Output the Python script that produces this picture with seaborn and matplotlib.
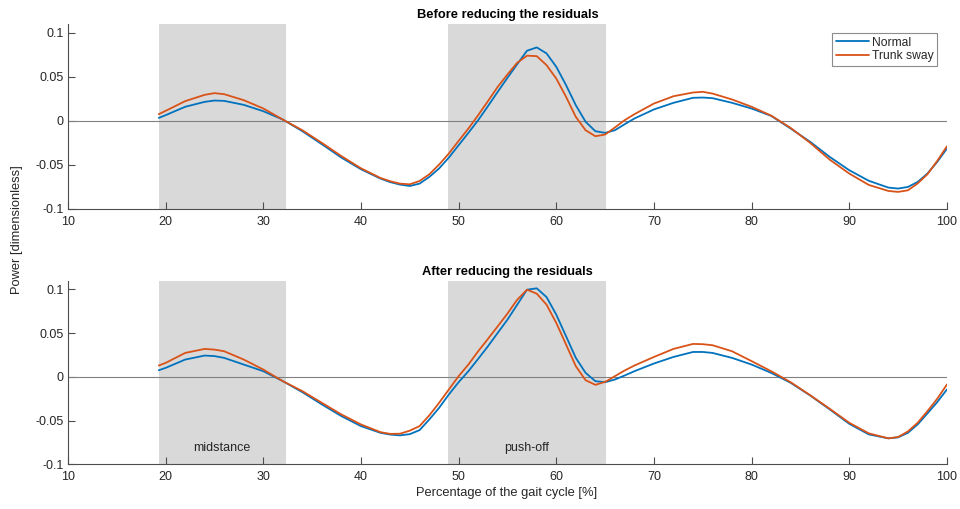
import numpy as np
import pandas as pd
import matplotlib
matplotlib.use("Agg")
import matplotlib.pyplot as plt
import seaborn as sns

# Gait cycle sample points (%)
pct = [19.3, 20, 22, 24, 25, 26, 28, 30, 32, 34, 36, 38, 40, 42, 43, 44, 45, 46, 47, 48,
       49, 50, 51, 52, 53, 54, 55, 56, 57, 58, 59, 60, 61, 62, 63, 64, 65, 66, 67, 68,
       70, 72, 74, 75, 76, 78, 80, 82, 84, 86, 88, 90, 92, 94, 95, 96, 97, 98, 99, 100]

# Before reducing the residuals
before_normal = [0.0034, 0.0065, 0.0160, 0.0216, 0.0231, 0.0227, 0.0182, 0.0110, 0.0015, -0.0117,
                 -0.0265, -0.0417, -0.0549, -0.0655, -0.0695, -0.0723, -0.0739, -0.0712, -0.0636, -0.0540,
                 -0.0416, -0.0276, -0.0136, 0.0008, 0.0167, 0.0330, 0.0489, 0.0644, 0.0796, 0.0834,
                 0.0766, 0.0614, 0.0406, 0.0178, -0.0010, -0.0117, -0.0136, -0.0106, -0.0038, 0.0027,
                 0.0130, 0.0205, 0.0262, 0.0265, 0.0258, 0.0205, 0.0140, 0.0057, -0.0087, -0.0238,
                 -0.0409, -0.0560, -0.0680, -0.0757, -0.0768, -0.0750, -0.0693, -0.0598, -0.0466, -0.0314]
before_sway = [0.0076, 0.0114, 0.0224, 0.0296, 0.0315, 0.0303, 0.0235, 0.0141, 0.0015, -0.0106,
               -0.0250, -0.0400, -0.0538, -0.0648, -0.0685, -0.0712, -0.0720, -0.0682, -0.0606, -0.0496,
               -0.0370, -0.0227, -0.0087, 0.0065, 0.0224, 0.0386, 0.0527, 0.0660, 0.0740, 0.0735,
               0.0633, 0.0480, 0.0273, 0.0045, -0.0106, -0.0174, -0.0155, -0.0075, 0.0008, 0.0076,
               0.0197, 0.0280, 0.0322, 0.0330, 0.0310, 0.0243, 0.0160, 0.0060, -0.0080, -0.0250,
               -0.0440, -0.0598, -0.0727, -0.0795, -0.0806, -0.0788, -0.0710, -0.0606, -0.0455, -0.0288]

# After reducing the residuals
after_normal = [0.0076, 0.0103, 0.0198, 0.0244, 0.0238, 0.0217, 0.0141, 0.0065, -0.0049, -0.0175,
                -0.0315, -0.0449, -0.0563, -0.0640, -0.0660, -0.0669, -0.0655, -0.0609, -0.0487, -0.0354,
                -0.0201, -0.0061, 0.0065, 0.0206, 0.0350, 0.0503, 0.0655, 0.0826, 0.0997, 0.1013,
                0.0913, 0.0712, 0.0465, 0.0217, 0.0046, -0.0049, -0.0061, -0.0030, 0.0016, 0.0065,
                0.0153, 0.0228, 0.0285, 0.0285, 0.0274, 0.0217, 0.0141, 0.0046, -0.0068, -0.0213,
                -0.0372, -0.0537, -0.0658, -0.0703, -0.0692, -0.0640, -0.0544, -0.0418, -0.0289, -0.0144]
after_sway = [0.0130, 0.0160, 0.0274, 0.0320, 0.0312, 0.0293, 0.0198, 0.0084, -0.0049, -0.0163,
              -0.0297, -0.0430, -0.0544, -0.0632, -0.0652, -0.0650, -0.0615, -0.0563, -0.0440, -0.0297,
              -0.0144, 0.0008, 0.0141, 0.0293, 0.0434, 0.0578, 0.0724, 0.0883, 0.0997, 0.0952,
              0.0826, 0.0617, 0.0370, 0.0122, -0.0038, -0.0091, -0.0057, 0.0008, 0.0073, 0.0130,
              0.0228, 0.0320, 0.0377, 0.0374, 0.0362, 0.0293, 0.0180, 0.0065, -0.0061, -0.0210,
              -0.0365, -0.0525, -0.0646, -0.0703, -0.0688, -0.0624, -0.0525, -0.0392, -0.0251, -0.0087]

conditions = ["Normal", "Trunk sway"]
titles = ["Before reducing the residuals", "After reducing the residuals"]
phases = [(19.3, 32.3, "midstance"), (48.9, 65.1, "push-off")]
xticks = [10, 20, 30, 40, 50, 60, 70, 80, 90, 100]
yticks = [-0.1, -0.05, 0, 0.05, 0.1]
ytick_labels = ["-0.1", "-0.05", "0", "0.05", "0.1"]

def long_frame(normal, sway):
    return pd.DataFrame({
        "pct": pct * 2,
        "power": normal + sway,
        "condition": [conditions[0]] * len(pct) + [conditions[1]] * len(pct),
    })

frames = [long_frame(before_normal, before_sway), long_frame(after_normal, after_sway)]

sns.set_theme(style="white")
plt.rcParams["font.family"] = ["Liberation Sans", "DejaVu Sans"]

text_col = "#262626"
axis_col = "#4d4d4d"
palette = {"Normal": "#0072BD", "Trunk sway": "#D95319"}

fig = plt.figure(figsize=(9.6, 5.09), dpi=100)
ax_top = fig.add_axes([0.0708, 0.5894, 0.9156, 0.3635])
ax_bot = fig.add_axes([0.0708, 0.0878, 0.9156, 0.3607])

for i, (ax, df) in enumerate(zip([ax_top, ax_bot], frames)):
    for x0, x1, label in phases:
        ax.axvspan(x0, x1, color="#d9d9d9", lw=0, zorder=0)
        if i == 1:
            ax.text((x0 + x1) / 2, -0.081, label, ha="center", va="center",
                    fontsize=9, color=text_col)
    ax.plot([10, 100], [0, 0], color="#808080", lw=0.8, zorder=1)
    sns.lineplot(data=df, x="pct", y="power", hue="condition", palette=palette,
                 hue_order=conditions, lw=1.3, ax=ax, legend=(i == 0), zorder=3)
    ax.set_xlim(10, 100)
    ax.set_ylim(-0.1, 0.11)
    ax.set_xticks(xticks)
    ax.set_yticks(yticks)
    ax.set_yticklabels(ytick_labels)
    ax.set_xlabel("")
    ax.set_ylabel("")
    ax.set_title(titles[i], fontsize=9.3, fontweight="bold", color="black", pad=4)
    for side in ["top", "right"]:
        ax.spines[side].set_visible(False)
    for side in ["left", "bottom"]:
        ax.spines[side].set_color(axis_col)
        ax.spines[side].set_linewidth(0.8)
    ax.tick_params(direction="in", length=5, width=0.8, colors=axis_col,
                   labelcolor=text_col, labelsize=9, left=True, bottom=True)
    ax.tick_params(axis="x", pad=5)
    ax.tick_params(axis="y", pad=3)

leg = ax_top.legend(loc="upper right", bbox_to_anchor=(0.9886, 0.951), borderaxespad=0,
                    fontsize=8.7, frameon=True, fancybox=False, framealpha=1,
                    edgecolor="#8c8c8c", handlelength=2.7, handletextpad=0.25,
                    borderpad=0.3, labelspacing=0.15)
leg.get_frame().set_linewidth(0.8)
for t in leg.get_texts():
    t.set_color(text_col)

fig.text(0.018, 0.548, "Power [dimensionless]", rotation=90, ha="center", va="center",
         fontsize=9.3, color=text_col)
fig.text(0.528, 0.031, "Percentage of the gait cycle [%]", ha="center", va="center",
         fontsize=9.3, color=text_col)

fig.savefig("out.png", dpi=100)
